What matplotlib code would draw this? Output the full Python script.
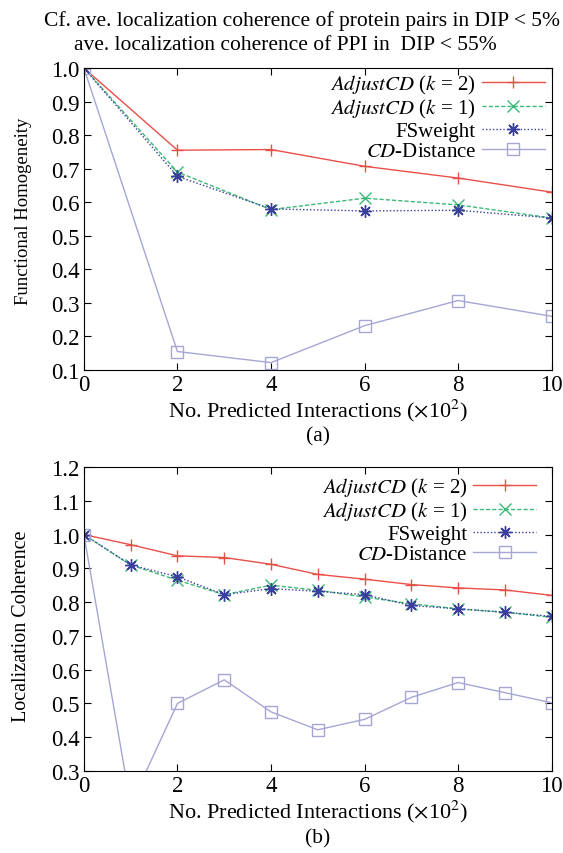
import matplotlib
matplotlib.use('Agg')
import matplotlib.pyplot as plt

# panel (a) data: functional homogeneity
xa = [0, 2, 4, 6, 8, 10]
fh_k2 = [1.0, 0.755, 0.757, 0.707, 0.672, 0.630]
fh_k1 = [1.0, 0.690, 0.578, 0.612, 0.592, 0.553]
fh_fs = [1.0, 0.677, 0.580, 0.574, 0.576, 0.553]
fh_cd = [1.0, 0.155, 0.122, 0.232, 0.307, 0.260]

# panel (b) data: localization coherence
xb = [0, 1, 2, 3, 4, 5, 6, 7, 8, 9, 10]
lc_k2 = [1.0, 0.970, 0.937, 0.932, 0.912, 0.882, 0.868, 0.852, 0.842, 0.836, 0.820]
lc_k1 = [1.0, 0.910, 0.865, 0.822, 0.850, 0.835, 0.815, 0.795, 0.780, 0.770, 0.755]
lc_fs = [1.0, 0.910, 0.875, 0.822, 0.840, 0.832, 0.822, 0.790, 0.780, 0.770, 0.758]
lc_cd = [1.0, 0.200, 0.500, 0.570, 0.475, 0.422, 0.453, 0.518, 0.562, 0.532, 0.502]

labels = [r'$\mathit{AdjustCD}$ ($\mathit{k}$ = 2)',
          r'$\mathit{AdjustCD}$ ($\mathit{k}$ = 1)',
          'FSweight',
          r'$\mathit{CD}$-Distance']

plt.rcParams['font.family'] = ['Liberation Serif', 'DejaVu Serif']
plt.rcParams['mathtext.fontset'] = 'stix'

fig = plt.figure(figsize=(5.63, 8.54), dpi=100)
ax_a = fig.add_axes([0.149, 0.5656, 0.831, 0.3536])
ax_b = fig.add_axes([0.149, 0.0960, 0.831, 0.3560])


def draw(ax, x, k2, k1, fs, cd, anchor):
    ax.plot(x, k2, color='#e8504a', lw=1.0, marker='+', ms=9, mew=1.0, label=labels[0])
    ax.plot(x, k1, color='#3cb878', lw=1.0, ls=(0, (3, 1.5)), marker='x', ms=8, mew=1.0, label=labels[1])
    ax.plot(x, fs, color='#3a3e9c', lw=1.0, ls=(0, (1, 1.5)), marker=(8, 2, 0), ms=9, mew=1.0, label=labels[2])
    ax.plot(x, cd, color='#a6a6d6', lw=1.0, marker='s', ms=9, mfc='none', mew=1.0, label=labels[3])
    ax.set_xlim(0, 10)
    ax.set_xticks([0, 2, 4, 6, 8, 10])
    ax.tick_params(direction='in', top=True, right=True, labelsize=16.5, length=5, pad=3)
    ax.set_xlabel(r'No. Predicted Interactions ($\times$10$^2$)', fontsize=16, labelpad=1)
    ax.legend(loc='upper right', bbox_to_anchor=anchor, frameon=False, markerfirst=False,
              fontsize=15, handlelength=3.0, handletextpad=0.3, labelspacing=0.05,
              borderaxespad=0, borderpad=0)


draw(ax_a, xa, fh_k2, fh_k1, fh_fs, fh_cd, (0.985, 0.983))
ax_a.set_ylim(0.1, 1.0)
ax_a.set_yticks([i / 10 for i in range(1, 11)])
ax_a.set_yticklabels(['%.1f' % (i / 10) for i in range(1, 11)])
ax_a.set_ylabel('Functional Homogeneity', fontsize=13.5)
ax_a.yaxis.set_label_coords(-0.11, 0.53)

draw(ax_b, xb, lc_k2, lc_k1, lc_fs, lc_cd, (0.966, 0.97))
ax_b.set_ylim(0.3, 1.2)
ax_b.set_yticks([i / 10 for i in range(3, 13)])
ax_b.set_yticklabels(['%.1f' % (i / 10) for i in range(3, 13)])
ax_b.set_ylabel('Localization Coherence', fontsize=14.5)
ax_b.yaxis.set_label_coords(-0.112, 0.48)

fig.text(0.536, 0.975, 'Cf. ave. localization coherence of protein pairs in DIP < 5%',
         ha='center', va='center', fontsize=15.5)
fig.text(0.506, 0.947, 'ave. localization coherence of PPI in  DIP < 55%',
         ha='center', va='center', fontsize=15.5)
fig.text(0.565, 0.488, '(a)', ha='center', va='center', fontsize=15.5)
fig.text(0.565, 0.018, '(b)', ha='center', va='center', fontsize=15.5)

fig.savefig('out.png', dpi=100)
